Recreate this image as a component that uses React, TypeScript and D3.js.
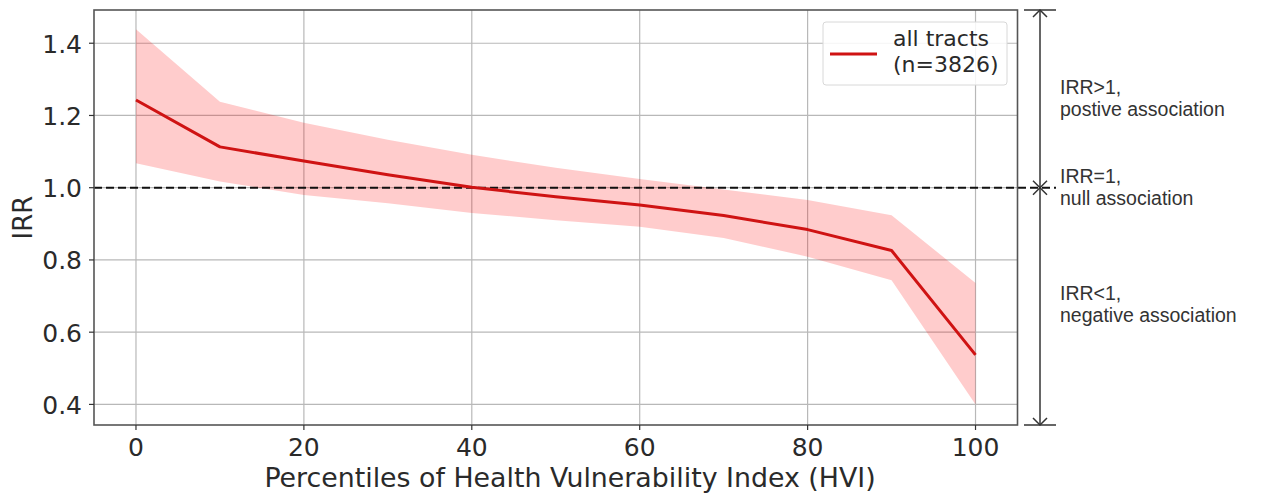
import React from "react";
import * as d3 from "d3";

const percentiles = [0, 10, 20, 30, 40, 50, 60, 70, 80, 90, 100];
const irrMean = [1.243, 1.113, 1.074, 1.036, 1.001, 0.975, 0.952, 0.923, 0.884, 0.826, 0.537];
const irrUpper = [1.439, 1.238, 1.18, 1.133, 1.091, 1.055, 1.024, 0.995, 0.966, 0.924, 0.736];
const irrLower = [1.068, 1.017, 0.98, 0.957, 0.93, 0.91, 0.892, 0.861, 0.809, 0.744, 0.4];
const xTicks = [0, 20, 40, 60, 80, 100];
const yTicks = [0.4, 0.6, 0.8, 1.0, 1.2, 1.4];
const legendLines = ["all tracts", "(n=3826)"];
const annotations = [
  ["IRR>1,", "postive association"],
  ["IRR=1,", "null association"],
  ["IRR<1,", "negative association"],
];

const W = 1275;
const H = 495;
const left = 94;
const right = 1017.5;
const top = 10;
const bottom = 425;

export default function App() {
  const x = d3.scaleLinear().domain([-5, 105]).range([left, right]);
  const y = d3.scaleLinear().domain([0.343, 1.492]).range([bottom, top]);
  const data = percentiles.map((p, i) => ({ p, m: irrMean[i], u: irrUpper[i], l: irrLower[i] }));
  const area = d3
    .area<any>()
    .x((d) => x(d.p))
    .y0((d) => y(d.l))
    .y1((d) => y(d.u));
  const line = d3
    .line<any>()
    .x((d) => x(d.p))
    .y((d) => y(d.m));

  const axFont = "DejaVu Sans, sans-serif";
  const annFont = "Liberation Sans, Arial, sans-serif";
  const ax = 1040;
  const y1 = y(1.0);
  const ch = 7;
  const chevUp = (yy: number) => `M${ax - ch},${yy + ch} L${ax},${yy} L${ax + ch},${yy + ch}`;
  const chevDown = (yy: number) => `M${ax - ch},${yy - ch} L${ax},${yy} L${ax + ch},${yy - ch}`;
  const annBase = [93.5, 182.5, 299.5];

  return (
    <svg width={W} height={H} style={{ position: "absolute", left: 0, top: 0, background: "#fff" }}>
      <rect x={0} y={0} width={W} height={H} fill="#fff" />
      {/* grid */}
      {xTicks.map((t) => (
        <line key={"gx" + t} x1={x(t)} x2={x(t)} y1={top} y2={bottom} stroke="#b8b8b8" strokeWidth={1.2} />
      ))}
      {yTicks.map((t) => (
        <line key={"gy" + t} x1={left} x2={right} y1={y(t)} y2={y(t)} stroke="#b8b8b8" strokeWidth={1.2} />
      ))}
      {/* band */}
      <path d={area(data) || ""} fill="#ff0000" fillOpacity={0.2} stroke="none" />
      {/* dashed reference */}
      <line x1={left} x2={1056} y1={y1} y2={y1} stroke="#111" strokeWidth={2} strokeDasharray="8,4" />
      {/* mean line */}
      <path d={line(data) || ""} fill="none" stroke="#cf1313" strokeWidth={3} strokeLinejoin="round" />
      {/* frame */}
      <rect x={left} y={top} width={right - left} height={bottom - top} fill="none" stroke="#555" strokeWidth={1.6} />
      {/* ticks */}
      {xTicks.map((t) => (
        <g key={"tx" + t}>
          <line x1={x(t)} x2={x(t)} y1={bottom} y2={bottom + 5} stroke="#333" strokeWidth={1.2} />
          <text x={x(t)} y={456} textAnchor="middle" fontFamily={axFont} fontSize={25} fill="#2a2a2a">
            {t}
          </text>
        </g>
      ))}
      {yTicks.map((t) => (
        <g key={"ty" + t}>
          <line x1={left - 5} x2={left} y1={y(t)} y2={y(t)} stroke="#333" strokeWidth={1.2} />
          <text x={82} y={y(t) + 9.5} textAnchor="end" fontFamily={axFont} fontSize={25} fill="#2a2a2a">
            {d3.format(".1f")(t)}
          </text>
        </g>
      ))}
      <text x={570} y={487} textAnchor="middle" fontFamily={axFont} fontSize={26.8} fill="#2a2a2a">
        Percentiles of Health Vulnerability Index (HVI)
      </text>
      <text
        transform={`translate(32,${(top + bottom) / 2}) rotate(-90)`}
        textAnchor="middle"
        fontFamily={axFont}
        fontSize={26}
        fill="#2a2a2a"
      >
        IRR
      </text>
      {/* legend */}
      <rect x={823} y={22} width={184} height={63} rx={3} fill="#fff" fillOpacity={0.85} stroke="#d8d8d8" strokeWidth={1} />
      <line x1={830} x2={877} y1={54} y2={54} stroke="#cf1313" strokeWidth={3} />
      {legendLines.map((s, i) => (
        <text key={s} x={893} y={46 + i * 26} fontFamily={axFont} fontSize={22} fill="#2a2a2a">
          {s}
        </text>
      ))}
      {/* right annotation arrows */}
      <line x1={ax} x2={ax} y1={top} y2={bottom} stroke="#333" strokeWidth={1.5} />
      <line x1={1024} x2={1056} y1={top} y2={top} stroke="#555" strokeWidth={1.8} />
      <line x1={1024} x2={1056} y1={bottom} y2={bottom} stroke="#555" strokeWidth={1.8} />
      <path d={chevUp(top)} fill="none" stroke="#333" strokeWidth={1.5} />
      <path d={chevDown(y1)} fill="none" stroke="#333" strokeWidth={1.5} />
      <path d={chevUp(y1)} fill="none" stroke="#333" strokeWidth={1.5} />
      <path d={chevDown(bottom)} fill="none" stroke="#333" strokeWidth={1.5} />
      {annotations.map((a, k) => (
        <g key={k}>
          {a.map((s, i) => (
            <text key={s} x={1060} y={annBase[k] + i * 22} fontFamily={annFont} fontSize={19.5} fill="#333">
              {s}
            </text>
          ))}
        </g>
      ))}
    </svg>
  );
}
